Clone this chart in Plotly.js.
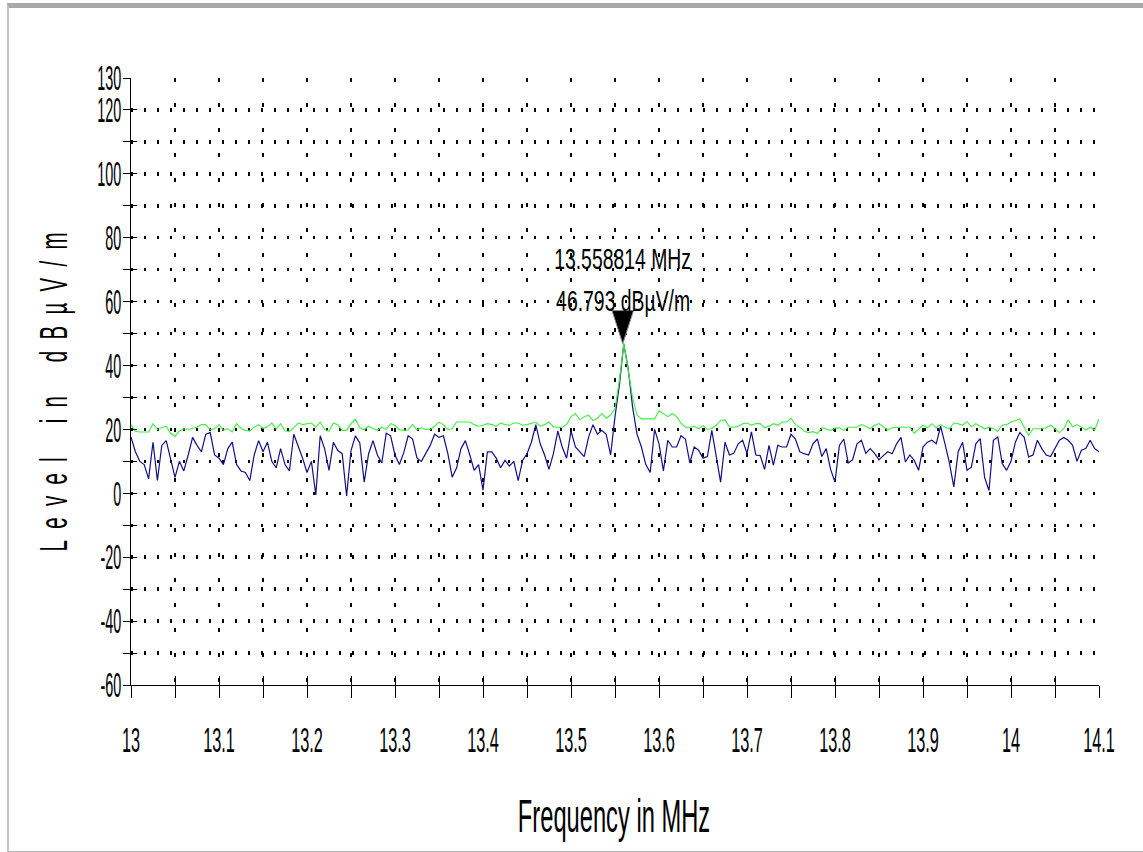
<!DOCTYPE html>
<html>
<head>
<meta charset="utf-8">
<script src="https://cdn.plot.ly/plotly-3.0.1.min.js"></script>
<style>
  html, body { margin: 0; padding: 0; background: #ffffff; }
  #wrap { position: relative; width: 1143px; height: 852px; overflow: hidden; }
  #chart { position: absolute; left: 0; top: 0; width: 1143px; height: 852px; }
  #frame { position: absolute; left: 7px; top: 3px; width: 1150px; height: 843px;
           border-top: 5px solid #a9a9a9; border-left: 2px solid #c4c4c4; border-bottom: 3px solid #b4b4b4;
           pointer-events: none; }
</style>
</head>
<body>
<div id="wrap"><div id="chart"></div><div id="frame"></div></div>
<script>
// ---- data ----
const freqStart = 13.0;      // MHz, first sweep point
const freqStep = 0.005;      // MHz between sweep points

// blue trace (dBµV/m)
const levelTrace = [
  17.6, 13, 10, 9, 4.5, 16, 4, 15, 16.5, 11,
  5, 10, 7, 12, 17.5, 15, 13, 18.5, 19, 12,
  11, 9, 14, 16, 9, 7, 6.5, 4, 12, 16.5,
  13, 16, 10, 8, 14, 9, 7, 18.5, 15, 11,
  6.5, 10, -0.5, 18, 14, 7.2, 16, 13.4, 12.4, -0.8,
  13.4, 18, 15.8, 3.5, 12.4, 16.5, 12, 9.5, 18.8, 18,
  12, 9, 12.8, 18, 17, 11, 10, 12.5, 15, 18.5,
  17.5, 18, 12.5, 5, 8, 14, 16.5, 12, 7.2, 9,
  1, 13, 13, 11, 8, 10.3, 8.5, 10, 4, 10.3,
  12.4, 16, 21.5, 15.5, 12, 7.5, 12.4, 19.5, 14.5, 11,
  19.5, 14.5, 13, 11.5, 17.6, 21.5, 18.5, 19.7, 18.5, 12,
  24, 34, 46.8, 39, 27, 18.5, 14.5, 9, 6.5, 20,
  15.5, 7, 16.6, 14.5, 14.5, 18, 17, 9.5, 14.5, 13.5,
  11, 11.5, 19.7, 11, 3.5, 16, 12, 12.5, 15.5, 16.6,
  12.5, 19.2, 12, 11.8, 7.5, 15, 8.8, 15, 14.5, 14.5,
  18.5, 17, 13, 12.4, 12, 15.5, 17, 11.5, 14, 7.5,
  3.5, 15, 17, 9.5, 10.5, 15.5, 16.6, 12.5, 14, 12.5,
  10.5, 11.8, 13, 12.4, 15.5, 17.5, 9.8, 12, 10.3, 7.2,
  14.5, 16, 16.6, 15.5, 21, 15.5, 9.5, 2, 13, 16,
  7.2, 8.2, 15.5, 17.1, 5, 0.9, 16.6, 17.6, 9.3, 7.2,
  10, 16, 19, 17.5, 11.4, 12, 16.6, 14, 12, 11.5,
  14, 16.6, 17.5, 16.6, 15, 10, 13.5, 14, 16.6, 14,
  13
];

// green trace (dBµV/m)
const maxHoldTrace = [
  21.5, 19.4, 19.2, 19.2, 19.2, 21.8, 20, 20.5, 21, 18.8,
  17.8, 19.5, 20.2, 20, 20.3, 20.7, 21.5, 21.5, 19.9, 20.2,
  21.5, 19.8, 20.2, 19.2, 21.8, 20.3, 19.7, 19.5, 20.7, 21.5,
  20.3, 20.8, 22, 20.2, 21.8, 19.5, 19.4, 20.5, 22, 21.5,
  21.8, 22, 20.7, 22.3, 20, 19.4, 22, 21.5, 19.7, 19.7,
  21.8, 23.2, 20.5, 19.9, 21, 20.2, 19.8, 20.7, 20, 21.8,
  21.3, 19.9, 19.7, 19.9, 21.5, 19.9, 20.5, 20, 20, 21,
  22.3, 21.5, 20, 20.2, 22.3, 22.3, 22.3, 22.3, 21.5, 21,
  21.3, 21.8, 21.5, 21, 22, 21.5, 21.3, 22, 22, 21.3,
  21.5, 21.8, 22.3, 21, 21.5, 22.3, 20.8, 20.7, 20.7, 21.5,
  24, 25, 23, 24, 24.5, 22.8, 23.5, 25, 23.5, 24.5,
  26.5, 35.5, 46.8, 38.5, 30, 24.5, 23.3, 23.3, 23.3, 23.3,
  25.8, 24.8, 24, 25, 24, 22, 20.7, 20.7, 21, 20.2,
  21.2, 20, 20.3, 21.3, 22.8, 23, 20.8, 20.7, 21, 21.8,
  22, 21.3, 21.8, 21.8, 20.5, 21, 21.8, 21.3, 22.3, 22.3,
  23.5, 21.5, 20.7, 19.5, 19, 19.3, 18.8, 20.5, 20.2, 19.7,
  20.4, 20.5, 19.7, 20.7, 20.7, 20.7, 21.5, 21, 20.2, 21.3,
  21.8, 20.7, 19.8, 20.5, 20.7, 20.7, 20.7, 20.7, 18.8, 20.2,
  21.3, 20.5, 21.8, 20.5, 21.5, 20.7, 20.2, 22, 21.8, 21.3,
  22.5, 20.8, 21.8, 21, 20.2, 20.7, 20.2, 19.4, 21.3, 21.5,
  22.3, 22.8, 23.3, 20.7, 18.1, 20.2, 20.2, 20.2, 20.5, 21.3,
  20.2, 19, 20.2, 23, 20.8, 21.5, 20.7, 19.8, 20.7, 19.8,
  23.3
];

// peak marker
const markerFreq = 13.558814;
const markerLevel = 46.793;
const markerFreqLabel = "13.558814 MHz";
const markerLevelLabel = "46.793 dBµV/m";

// axes
const xTickVals = [13, 13.05, 13.1, 13.15, 13.2, 13.25, 13.3, 13.35, 13.4, 13.45, 13.5, 13.55,
                   13.6, 13.65, 13.7, 13.75, 13.8, 13.85, 13.9, 13.95, 14, 14.05, 14.1];
const xTickText = ["13", "", "13.1", "", "13.2", "", "13.3", "", "13.4", "", "13.5", "",
                   "13.6", "", "13.7", "", "13.8", "", "13.9", "", "14", "", "14.1"];
const yTickVals = [-60, -50, -40, -30, -20, -10, 0, 10, 20, 30, 40, 50, 60, 70, 80, 90, 100, 110, 120, 130];
const yTickText = ["-60", "", "-40", "", "-20", "", "0", "", "20", "", "40", "", "60", "", "80", "", "100", "", "120", "130"];
const xTitle = "Frequency in MHz";
const yTitle = "L\u00a0\u00a0e\u00a0\u00a0v\u00a0\u00a0e\u00a0\u00a0l\u00a0\u00a0\u00a0\u00a0\u00a0\u00a0i\u00a0\u00a0n\u00a0\u00a0\u00a0\u00a0\u00a0\u00a0d\u00a0\u00a0B\u00a0\u00a0µ\u00a0\u00a0V\u00a0\u00a0/\u00a0\u00a0m";

// ---- build ----
const freq = levelTrace.map((_, i) => +(freqStart + i * freqStep).toFixed(4));
const FONT = "'Liberation Sans', Arial, sans-serif";

const traces = [
  { x: freq, y: levelTrace, type: "scatter", mode: "lines",
    line: { color: "#101088", width: 1.2 }, hoverinfo: "skip", showlegend: false },
  { x: freq, y: maxHoldTrace, type: "scatter", mode: "lines",
    line: { color: "#3ef03e", width: 1.1 }, hoverinfo: "skip", showlegend: false },
  { x: [markerFreq], y: [markerLevel], type: "scatter", mode: "markers",
    marker: { symbol: "arrow", angle: 180, size: 35, color: "#000000",
              line: { color: "#8a8a8a", width: 1 } },
    hoverinfo: "skip", showlegend: false },
  { x: [], y: [], xaxis: "x2", yaxis: "y2", type: "scatter", mode: "lines", showlegend: false, hoverinfo: "skip" }
];

const xRange = [13, 14.1];
const yRange = [-60, 130];

const layout = {
  width: 1143, height: 852, autosize: false,
  paper_bgcolor: "#ffffff", plot_bgcolor: "#ffffff",
  margin: { l: 131, r: 44, t: 78, b: 167, pad: 0 },
  showlegend: false,
  xaxis: {
    range: xRange, tickmode: "array", tickvals: xTickVals, ticktext: xTickText,
    ticks: "outside", ticklen: 12, tickwidth: 1, tickcolor: "#000",
    showline: true, linecolor: "#000", linewidth: 1, zeroline: false,
    showgrid: true, gridcolor: "#000", gridwidth: 2, griddash: "4px,21px",
    tickfont: { family: FONT, size: 24, color: "#000" },
    ticklabelstandoff: 21,
    title: { text: xTitle, font: { family: FONT, size: 30, color: "#000" }, standoff: 40 }
  },
  xaxis2: {
    overlaying: "x", anchor: "y", side: "bottom", range: xRange,
    tickmode: "array", tickvals: xTickVals, ticks: "inside", ticklen: 9, tickwidth: 1, tickcolor: "#000",
    showticklabels: false, showgrid: false, showline: false, zeroline: false
  },
  yaxis: {
    range: yRange, tickmode: "array", tickvals: yTickVals, ticktext: yTickText,
    ticks: "outside", ticklen: 7, tickwidth: 1, tickcolor: "#000",
    showline: true, linecolor: "#000", linewidth: 1, zeroline: false,
    showgrid: true, gridcolor: "#000", gridwidth: 3.5, griddash: "2px,11px",
    tickfont: { family: FONT, size: 24, color: "#000" },
    ticklabelstandoff: -3,
    title: { text: yTitle, font: { family: FONT, size: 24, color: "#000" }, standoff: 20 }
  },
  yaxis2: {
    overlaying: "y", anchor: "x", side: "left", range: yRange,
    tickmode: "array", tickvals: yTickVals, ticks: "inside", ticklen: 6, tickwidth: 1, tickcolor: "#000",
    showticklabels: false, showgrid: false, showline: false, zeroline: false
  },
  annotations: [
    { x: markerFreq, y: markerLevel, xref: "x", yref: "y", text: markerFreqLabel, showarrow: false,
      xanchor: "center", yanchor: "middle", yshift: 85,
      font: { family: FONT, size: 20, color: "#000" } },
    { x: markerFreq, y: markerLevel, xref: "x", yref: "y", text: markerLevelLabel, showarrow: false,
      xanchor: "center", yanchor: "middle", yshift: 43,
      font: { family: FONT, size: 20, color: "#000" } }
  ]
};

// condensed, tall lettering like the instrument software: wrap text nodes in a scaled group
function stretch(el, o) {
  const svgNS = "http://www.w3.org/2000/svg";
  const parent = el.parentNode;
  const g = document.createElementNS(svgNS, "g");
  parent.insertBefore(g, el);
  g.appendChild(el);
  const bb = g.getBBox();
  if (!bb.width) return;
  const ctm = parent.getScreenCTM();
  const ax = bb.x + bb.width * (o.fx == null ? 0.5 : o.fx);
  const ay = bb.y + bb.height * (o.fy == null ? 0.5 : o.fy);
  const base = `translate(${ax},${ay}) scale(${o.sx},${o.sy}) translate(${-ax},${-ay})`;
  g.setAttribute("transform", base);
  if (o.cx != null || o.cy != null) {
    const r = g.getBoundingClientRect();
    const tx = o.cx != null ? (o.cx - (r.left + r.width / 2)) / ctm.a : 0;
    const ty = o.cy != null ? (o.cy - (r.top + r.height / 2)) / ctm.d : 0;
    g.setAttribute("transform", `translate(${tx},${ty}) ` + base);
  }
}

Plotly.newPlot("chart", traces, layout, { staticPlot: true, displayModeBar: false }).then(gd => {
  gd.querySelectorAll(".xtick text").forEach(t => stretch(t, { sx: 0.68, sy: 1.45 }));
  gd.querySelectorAll(".ytick text").forEach(t => stretch(t, { sx: 0.6, sy: 1.45, fx: 1 }));
  gd.querySelectorAll(".g-xtitle text").forEach(t => stretch(t, { sx: 0.79, sy: 1.53, cx: 614, cy: 816 }));
  gd.querySelectorAll(".g-ytitle text").forEach(t => stretch(t, { sx: 1.63, sy: 0.85, cx: 54, cy: 392 }));
  gd.querySelectorAll("g.annotation text").forEach(t => stretch(t, { sx: 0.97, sy: 1.45 }));
});
</script>
</body>
</html>
